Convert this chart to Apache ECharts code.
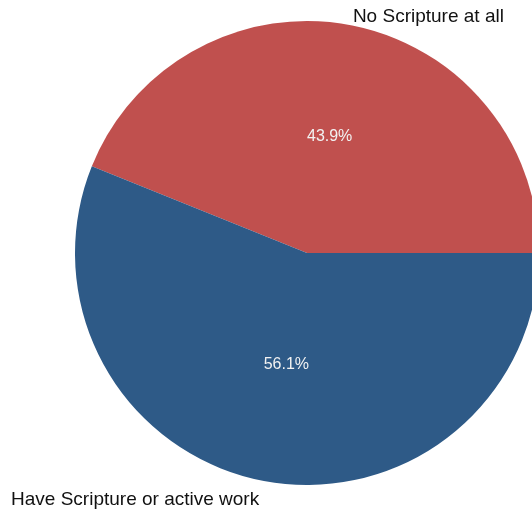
<!DOCTYPE html>
<html>
<head>
<meta charset="utf-8">
<script src="https://cdn.jsdelivr.net/npm/echarts@6/dist/echarts.min.js"></script>
<style>html,body{margin:0;padding:0;background:#fff;}#c{width:532px;height:510px;}</style>
</head>
<body>
<div id="c"></div>
<script>
const categories = ["No Scripture at all", "Have Scripture or active work"];
const values = [43.9, 56.1];
const colors = ["#C0504E", "#2E5A87"];
const lineLengths = [9, 19];
const innerOffsets = [[0, 0], [2, -5]];

const chart = echarts.init(document.getElementById('c'), null, {renderer: 'canvas'});
const base = {
  type: 'pie',
  center: [307, 253],
  radius: 232,
  startAngle: 0,
  clockwise: false,
  avoidLabelOverlap: false,
  silent: true,
  animation: false
};
chart.setOption({
  series: [
    Object.assign({}, base, {
      data: categories.map((c, i) => ({
        name: c, value: values[i], itemStyle: {color: colors[i]},
        label: {offset: innerOffsets[i]}
      })),
      label: {
        show: true,
        position: 'inside',
        color: '#f2f2f2',
        fontFamily: 'Liberation Sans',
        fontSize: 16,
        formatter: p => p.value.toFixed(1) + '%'
      },
      labelLine: {show: false}
    }),
    Object.assign({}, base, {
      data: categories.map((c, i) => ({
        name: c, value: values[i],
        labelLine: {show: false, length: lineLengths[i], length2: 0}
      })),
      itemStyle: {color: 'rgba(0,0,0,0)'},
      label: {
        show: true,
        position: 'outside',
        color: '#111',
        fontFamily: 'Liberation Sans',
        fontSize: 19,
        distanceToLabelLine: 0,
        formatter: '{b}'
      },
      labelLine: {show: false, length: 8, length2: 0}
    })
  ]
});
</script>
</body>
</html>
